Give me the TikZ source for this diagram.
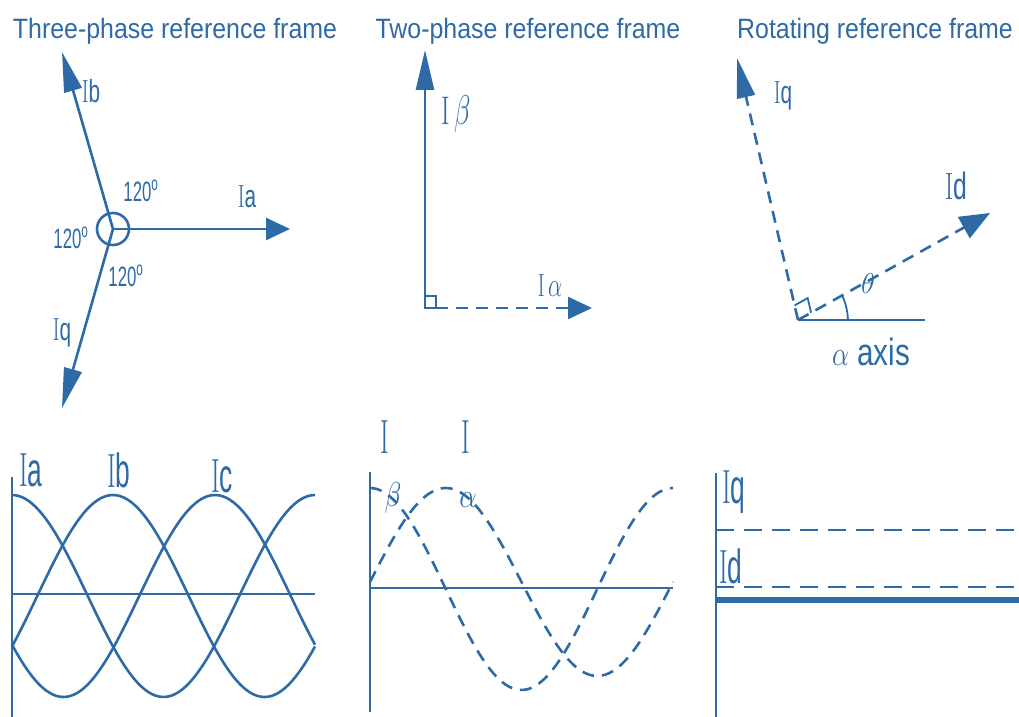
\documentclass[tikz,border=0pt]{standalone}
\usepackage{fontspec}
\setsansfont{Liberation Sans}
\usepackage{graphicx}
\usetikzlibrary{arrows.meta}
\definecolor{frameblue}{HTML}{2E6AA6}
\newcommand{\condtxt}[2][0.65]{\scalebox{#1}[1]{#2}}
\tikzset{
  wire/.style={draw=frameblue, line width=1.3pt},
  dashwire/.style={wire, dash pattern=on 6pt off 4pt},
  fattip/.style={-{Triangle[length=12pt,width=11pt]}},
  longtip/.style={-{Triangle[length=20pt,width=9pt]}},
  title/.style={text=frameblue, inner sep=0pt, font=\sffamily\fontsize{14}{16}\selectfont},
  sym/.style={text=frameblue, inner sep=0pt, font=\fontsize{16}{16}\selectfont},
  bigsym/.style={sym, font=\fontsize{24}{24}\selectfont},
  deg/.style={text=frameblue, inner sep=0pt, font=\sffamily\fontsize{14}{14}\selectfont}
}
\begin{document}
\begin{tikzpicture}[x=0.5pt,y=-0.5pt]
\useasboundingbox (0,0) rectangle (1019,717);

% titles
\node[title] (tthree) at (175,31) {\condtxt[0.89]{Three-phase reference frame}};
\node[title] (ttwo) at (528,31) {\condtxt[0.89]{Two-phase reference frame}};
\node[title] (trot) at (875,31) {\condtxt[0.89]{Rotating reference frame}};

% three-phase frame
\coordinate (c3) at (113,229);
\node[wire, circle, minimum size=16pt, inner sep=0pt] (hub) at (c3) {};
\coordinate (tipa) at (290,229);
\coordinate (tipb) at (62,52);
\coordinate (tipq) at (62,408);
\draw[wire, fattip] (c3) -- (tipa);
\draw[wire, longtip] (c3) -- (tipb);
\draw[wire, longtip] (c3) -- (tipq);
\node[sym] (lia) at (247,197) {\condtxt{I\textsf{a}}};
\node[sym] (lib) at (91,91) {\condtxt{I\textsf{b}}};
\node[sym] (liq) at (62,333) {\condtxt{I\textsf{q}}};
\node[deg] (dup) at (141,191) {\condtxt[0.6]{120\textsuperscript{o}}};
\node[deg] (dleft) at (71,238) {\condtxt[0.6]{120\textsuperscript{o}}};
\node[deg] (ddown) at (126,276) {\condtxt[0.6]{120\textsuperscript{o}}};

% two-phase frame
\coordinate (c2) at (425,308);
\coordinate (tipbeta) at (425,50);
\coordinate (tipalpha) at (592,308);
\draw[wire] (c2) rectangle (436,296);
\draw[wire, longtip] (c2) -- (tipbeta);
\draw[dashwire, fattip] (436,308) -- (tipalpha);
\node[sym, font=\fontsize{20}{20}\selectfont] (lbeta) at (456,114) {\condtxt{I\,$\beta$}};
\node[sym] (lalpha) at (550,286) {\condtxt{I\,$\alpha$}};

% rotating frame
\coordinate (cr) at (798,320);
\coordinate (axend) at (925,320);
\coordinate (tipd) at (990,213);
\coordinate (tipqr) at (737,58);
\draw[wire] (cr) -- (axend);
\draw[dashwire, longtip] (cr) -- (tipqr);
\draw[dashwire, -{Triangle[length=15pt,width=12pt]}] (cr) -- (tipd);
\draw[wire, line width=0.9pt] (794.6,305.4) -- (807.7,298.1) -- (811.1,312.7);
\draw[wire, line width=0.9pt] (848,320) to[bend right=10] (842,295);
\node[sym] (lqr) at (783,96) {\condtxt{I\textsf{q}}};
\node[sym, font=\fontsize{19}{19}\selectfont] (ldr) at (956,186) {\condtxt{I\textsf{d}}};
\node[sym, font=\fontsize{15}{15}\selectfont] (lth) at (868,283) {$\theta$};
\node[text=frameblue, inner sep=0pt, font=\sffamily\fontsize{19}{19}\selectfont] (lax) at (871,352) {\condtxt[0.78]{$\alpha$ axis}};

% three-phase currents
\draw[wire] (12,477) -- (12,717);
\draw[wire] (12,594) -- (315,594);
\foreach \ph in {12,113,215}
  \draw[wire] plot[domain=12:315, samples=90] (\x, {596-101*cos(1.188119*(\x-\ph))});
\node[bigsym] (wia) at (31,470) {\condtxt[0.55]{I\textsf{a}}};
\node[bigsym] (wib) at (119,470) {\condtxt[0.55]{I\textsf{b}}};
\node[bigsym] (wic) at (222,476) {\condtxt[0.55]{I\textsf{c}}};

% two-phase currents
\draw[wire] (370,472) -- (370,712);
\draw[wire] (370,588) -- (673,588);
\draw[dashwire] plot[domain=370:673, samples=90] (\x, {589-101*cos(1.188119*(\x-370))});
\draw[dashwire] plot[domain=370:673, samples=90] (\x, {582-94*sin(1.188119*(\x-370))});
\node[bigsym] (wib1) at (385,437) {\condtxt[0.55]{I}};
\node[bigsym] (wia1) at (466,437) {\condtxt[0.55]{I}};
\node[sym] (wbeta) at (393,498) {\condtxt[0.8]{$\beta$}};
\node[sym] (walpha) at (468,500) {\condtxt[0.8]{$\alpha$}};

% rotating currents
\draw[wire] (716,473) -- (716,717);
\draw[dashwire, dash pattern=on 9pt off 5pt] (716,530) -- (1019,530);
\draw[dashwire, dash pattern=on 9pt off 5pt] (716,587) -- (1019,587);
\draw[wire, line width=3pt] (716,600) -- (1019,600);
\node[bigsym] (wiq) at (734,492) {\condtxt[0.55]{I\textsf{q}}};
\node[bigsym] (wid) at (731,566) {\condtxt[0.55]{I\textsf{d}}};
\end{tikzpicture}
\end{document}
